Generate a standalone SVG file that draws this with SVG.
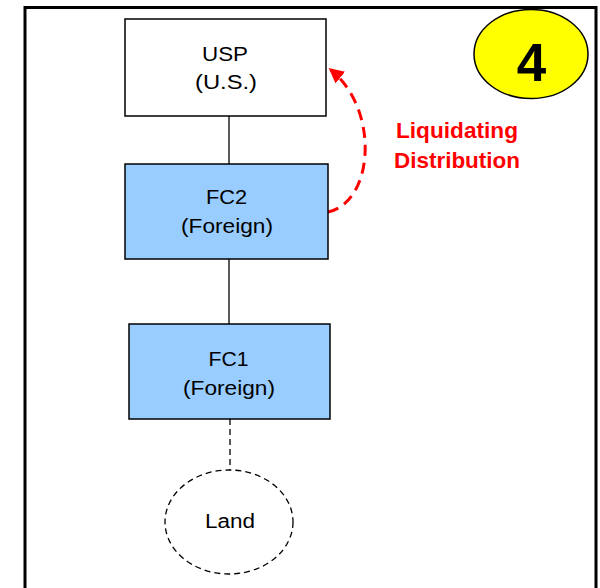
<svg xmlns="http://www.w3.org/2000/svg" width="600" height="588" viewBox="0 0 600 588">
<style>
.box{stroke:#000;stroke-width:1.5}
.lbl{font-family:"Liberation Sans",Arial,sans-serif;font-size:20px;fill:#000;text-anchor:middle}
.red{font-family:"Liberation Sans",Arial,sans-serif;font-size:21.5px;font-weight:bold;fill:#ff0000;text-anchor:middle}
</style>
<defs>
<marker id="ah" viewBox="0 0 10 10" refX="8" refY="5" markerWidth="5" markerHeight="5" orient="auto" markerUnits="strokeWidth">
<path d="M0,0 L10,5 L0,10 z" fill="#ff0000"/>
</marker>
</defs>
<rect x="0" y="0" width="600" height="588" fill="#fff"/>
<rect x="25" y="7.5" width="571" height="600" fill="none" stroke="#000" stroke-width="3"/>
<g id="connectors">
<line x1="229" y1="116" x2="229" y2="164" stroke="#000" stroke-width="1.3"/>
<line x1="229" y1="259" x2="229" y2="324" stroke="#000" stroke-width="1.3"/>
<line x1="230" y1="419" x2="230" y2="470" stroke="#000" stroke-width="1.3" stroke-dasharray="6,4"/>
<path d="M328,212 C374,202 380,110 331,70" fill="none" stroke="#ff0000" stroke-width="3" stroke-dasharray="11,7" marker-end="url(#ah)"/>
</g>
<g id="usp">
<rect class="box" x="125" y="19" width="201" height="97" fill="#fff"/>
<text class="lbl" x="225" y="60.5" textLength="46" lengthAdjust="spacingAndGlyphs">USP</text>
<text class="lbl" x="226" y="88.5" textLength="62" lengthAdjust="spacingAndGlyphs">(U.S.)</text>
</g>
<g id="fc2">
<rect class="box" x="125" y="164" width="203" height="95" fill="#99ccff"/>
<text class="lbl" x="226.5" y="203.5" textLength="41" lengthAdjust="spacingAndGlyphs">FC2</text>
<text class="lbl" x="227" y="233" textLength="92" lengthAdjust="spacingAndGlyphs">(Foreign)</text>
</g>
<g id="fc1">
<rect class="box" x="129" y="324" width="201" height="95" fill="#99ccff"/>
<text class="lbl" x="228.5" y="366" textLength="40" lengthAdjust="spacingAndGlyphs">FC1</text>
<text class="lbl" x="229" y="395" textLength="92" lengthAdjust="spacingAndGlyphs">(Foreign)</text>
</g>
<g id="land">
<ellipse cx="229" cy="522" rx="64" ry="52" fill="#fff" stroke="#000" stroke-width="1.3" stroke-dasharray="6,4"/>
<text class="lbl" x="230" y="528" textLength="50" lengthAdjust="spacingAndGlyphs">Land</text>
</g>
<g id="label">
<text class="red" x="457" y="138" textLength="122" lengthAdjust="spacingAndGlyphs">Liquidating</text>
<text class="red" x="457" y="168" textLength="126" lengthAdjust="spacingAndGlyphs">Distribution</text>
</g>
<g id="step">
<ellipse cx="531" cy="54" rx="57" ry="44.5" fill="#ffff00" stroke="#000" stroke-width="1.5"/>
<text x="531.5" y="80.5" font-family="Liberation Sans,Arial,sans-serif" font-size="53" font-weight="bold" text-anchor="middle">4</text>
</g>
</svg>
